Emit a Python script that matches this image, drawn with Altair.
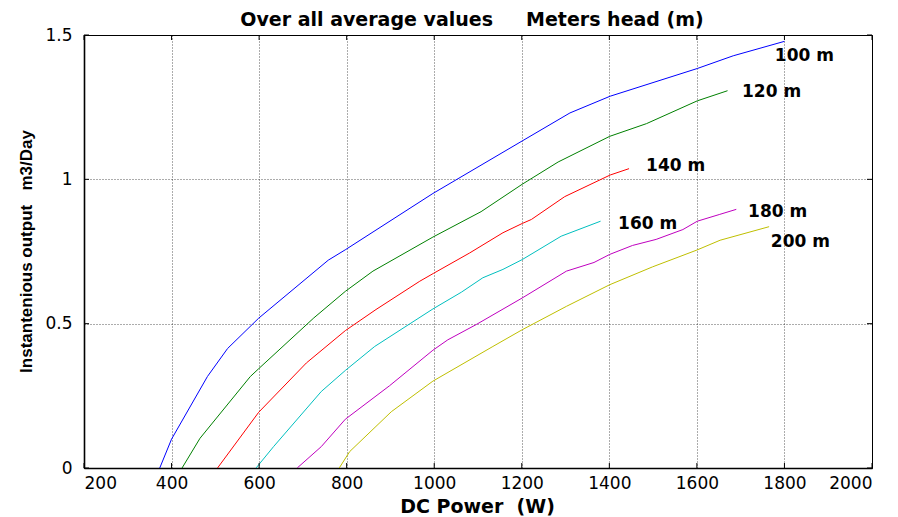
import altair as alt
import pandas as pd

# ---- data ----
heads = ["100 m", "120 m", "140 m", "160 m", "180 m", "200 m"]
colors = ["#0000FF", "#008000", "#FF0000", "#00BFBF", "#BF00BF", "#BFBF00"]

p100 = [373, 400, 482, 528, 599, 758, 798, 997, 1201, 1310, 1402, 1601, 1683, 1800]
v100 = [0, 0.10, 0.317, 0.414, 0.519, 0.72, 0.757, 0.951, 1.133, 1.23, 1.288, 1.384, 1.428, 1.478]

p120 = [424, 465, 580, 599, 725, 797, 860, 997, 1107, 1201, 1283, 1401, 1485, 1601, 1670]
v120 = [0, 0.103, 0.317, 0.344, 0.52, 0.612, 0.682, 0.80, 0.888, 0.983, 1.06, 1.149, 1.193, 1.272, 1.307]

p140 = [505, 599, 708, 797, 867, 967, 998, 1081, 1157, 1201, 1222, 1298, 1402, 1445]
v140 = [0, 0.193, 0.364, 0.476, 0.549, 0.647, 0.674, 0.745, 0.815, 0.847, 0.861, 0.94, 1.015, 1.037]

p160 = [593, 633, 742, 797, 864, 997, 1062, 1111, 1157, 1201, 1290, 1380]
v160 = [0, 0.074, 0.265, 0.338, 0.421, 0.551, 0.609, 0.659, 0.688, 0.722, 0.803, 0.855]

p180 = [687, 742, 797, 898, 997, 1031, 1096, 1201, 1302, 1365, 1401, 1453, 1507, 1568, 1601, 1651, 1690]
v180 = [0, 0.074, 0.169, 0.285, 0.408, 0.444, 0.497, 0.589, 0.682, 0.712, 0.74, 0.771, 0.792, 0.826, 0.855, 0.878, 0.896]

p200 = [783, 807, 902, 997, 1134, 1201, 1302, 1401, 1499, 1600, 1653, 1765]
v200 = [0, 0.057, 0.195, 0.301, 0.421, 0.479, 0.56, 0.635, 0.697, 0.755, 0.789, 0.836]

label_p = [1778, 1703, 1484, 1420, 1717, 1769]
label_v = [1.427, 1.301, 1.046, 0.845, 0.888, 0.782]

x_ticks = [200, 400, 600, 800, 1000, 1200, 1400, 1600, 1800, 2000]
y_ticks = [0, 0.5, 1, 1.5]

title_text = "Over all average values\u00a0\u00a0\u00a0\u00a0\u00a0Meters head (m)"
x_title = "DC Power\u00a0\u00a0(W)"
y_title = "Instantenious output\u00a0\u00a0\u00a0m3/Day"

# ---- tables ----
rows = []
for h, ps, vs in zip(heads, [p100, p120, p140, p160, p180, p200],
                     [v100, v120, v140, v160, v180, v200]):
    for i, (p, v) in enumerate(zip(ps, vs)):
        rows.append({"head": h, "P": p, "V": v, "i": i})
df = pd.DataFrame(rows)
labels = pd.DataFrame({"head": heads, "P": label_p, "V": label_v})
xt = pd.DataFrame({"t": x_ticks})
yt = pd.DataFrame({"t": y_ticks})
tt = pd.DataFrame({"title": [title_text]})

W, H = 788, 433
xs = alt.Scale(domain=[200, 2000], nice=False, zero=False)
ys = alt.Scale(domain=[0, 1.5], nice=False)

base_x = alt.X("P:Q", scale=xs,
               axis=alt.Axis(values=x_ticks, title=x_title, format="d",
                             titleX=393, titleY=44.5, titleBaseline="alphabetic",
                             titleAnchor="middle", titleAlign="center"))
base_y = alt.Y("V:Q", scale=ys,
               axis=alt.Axis(values=y_ticks, title=y_title, format="~g",
                             titleX=-53, titleY=216, titleAngle=270,
                             titleBaseline="alphabetic", titleAlign="center",
                             titleAnchor="middle"))

lines = alt.Chart(df).mark_line(strokeWidth=1, clip=True).encode(
    x=base_x,
    y=base_y,
    color=alt.Color("head:N", scale=alt.Scale(domain=heads, range=colors), legend=None),
    order=alt.Order("i:Q"),
)

texts = alt.Chart(labels).mark_text(
    align="left", baseline="middle", font="DejaVu Sans", fontWeight="bold",
    fontSize=17, color="black"
).encode(x=alt.X("P:Q", scale=xs), y=alt.Y("V:Q", scale=ys), text="head:N")

# chart title drawn as a text mark above the plot area
title_mark = alt.Chart(tt).mark_text(
    align="center", baseline="alphabetic", font="DejaVu Sans", fontWeight="bold",
    fontSize=19, color="black"
).encode(x=alt.value(388), y=alt.value(-9), text="title:N")

tick_style = dict(color="black", strokeWidth=1)
bot = alt.Chart(xt).mark_rule(**tick_style).encode(
    x=alt.X("t:Q", scale=xs), y=alt.value(H), y2=alt.value(H - 5))
top = alt.Chart(xt).mark_rule(**tick_style).encode(
    x=alt.X("t:Q", scale=xs), y=alt.value(0), y2=alt.value(5))
lef = alt.Chart(yt).mark_rule(**tick_style).encode(
    y=alt.Y("t:Q", scale=ys), x=alt.value(0), x2=alt.value(5))
rig = alt.Chart(yt).mark_rule(**tick_style).encode(
    y=alt.Y("t:Q", scale=ys), x=alt.value(W), x2=alt.value(W - 5))

chart = alt.layer(lines, bot, top, lef, rig, texts, title_mark).properties(
    width=W, height=H,
    autosize=alt.AutoSizeParams(type="none"),
    padding={"left": 76, "top": 27, "right": 10, "bottom": 50},
).configure_view(
    stroke="black", strokeWidth=1
).configure_axis(
    domainColor="black", domainWidth=1.6, ticks=False, tickSize=0,
    grid=True, gridColor="black", gridOpacity=0.65, gridDash=[1, 2], gridWidth=1,
    labelFont="DejaVu Sans", labelFontSize=17, labelColor="black",
    titleFont="DejaVu Sans", titleFontSize=19, titleFontWeight="bold",
    titleColor="black",
).configure_axisX(
    labelPadding=7,
).configure_axisY(
    labelPadding=12, titleFont="Liberation Sans", titleFontSize=17,
)

chart.save("out.html", embed_options={"renderer": "svg", "actions": False})
